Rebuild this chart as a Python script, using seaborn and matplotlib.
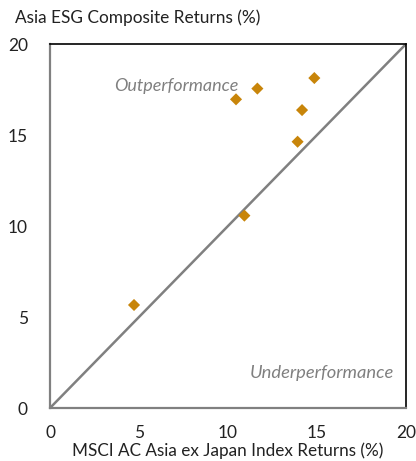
import pandas as pd
import numpy as np
import matplotlib
matplotlib.use("Agg")
import matplotlib.pyplot as plt
import seaborn as sns

# index returns vs composite returns (%)
msci_returns = [4.72, 10.92, 10.45, 11.65, 14.85, 14.16, 13.91]
esg_returns = [5.66, 10.57, 16.96, 17.55, 18.13, 16.37, 14.63]
ticks = [0, 5, 10, 15, 20]

df = pd.DataFrame({"msci": msci_returns, "esg": esg_returns})

sns.set_style("white")
plt.rcParams['font.family'] = ['Lato', 'DejaVu Sans']

fig = plt.figure(figsize=(4.16, 4.61), dpi=100)
ax = fig.add_axes([50/416, 1-408/461, 356/416, 364/461])

ax.plot([0, 20], [0, 20], color="#808080", lw=1.8, zorder=1)
sns.scatterplot(x="msci", y="esg", data=df, marker="D", s=38, color="#C8850A",
                edgecolor="none", ax=ax, zorder=2)

ax.set_xlim(0, 20)
ax.set_ylim(0, 20)
ax.set_xticks(ticks)
ax.set_yticks(ticks)
ax.tick_params(axis="both", length=0, labelsize=12.5, colors="#222222")
ax.tick_params(axis="x", pad=12)
ax.tick_params(axis="y", pad=16)

for s in ["left", "bottom"]:
    ax.spines[s].set_color("#808080")
    ax.spines[s].set_linewidth(1.6)
for s in ["top", "right"]:
    ax.spines[s].set_color("black")
    ax.spines[s].set_linewidth(1.2)

ax.set_xlabel("MSCI AC Asia ex Japan Index Returns (%)", fontsize=12.3, color="#222222", labelpad=1)
ax.set_ylabel("")
fig.text(15/416, 1-18/461, "Asia ESG Composite Returns (%)", fontsize=12.4,
         color="#222222", ha="left", va="center")

ax.text(3.6, 17.7, "Outperformance", fontsize=13, style="italic", color="#808080",
        ha="left", va="center")
ax.text(19.3, 1.9, "Underperformance", fontsize=13.2, style="italic", color="#808080",
        ha="right", va="center")

fig.savefig("out.png", dpi=100)
